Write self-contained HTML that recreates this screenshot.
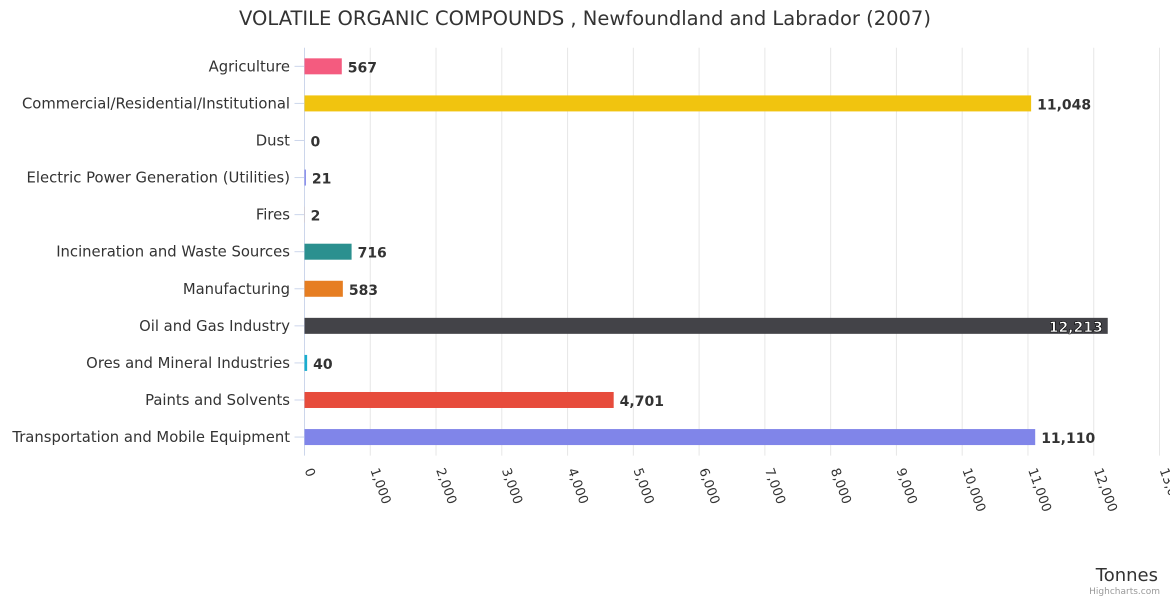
<!DOCTYPE html>
<html><head><meta charset="utf-8"><style>
body{margin:0;background:#fff;font-family:"Liberation Sans","DejaVu Sans",sans-serif}
svg text{font-family:"DejaVu Sans","Liberation Sans",sans-serif}
</style></head><body>
<svg id="c" width="1170" height="600">
<text x="585" y="25" text-anchor="middle" font-size="19.5" fill="#333">VOLATILE ORGANIC COMPOUNDS , Newfoundland and Labrador (2007)</text>
<g id="grid"></g><g id="bars"></g><g id="ylab"></g><g id="xlab"></g>
<text x="1158" y="581" text-anchor="end" font-size="18" fill="#333">Tonnes</text>
<text x="1160" y="594" text-anchor="end" font-size="9" fill="#999">Highcharts.com</text>
</svg>
<script>
const categories=["Agriculture","Commercial/Residential/Institutional","Dust","Electric Power Generation (Utilities)","Fires","Incineration and Waste Sources","Manufacturing","Oil and Gas Industry","Ores and Mineral Industries","Paints and Solvents","Transportation and Mobile Equipment"];
const values=[567,11048,0,21,2,716,583,12213,40,4701,11110];
const colors=["#f45b7f","#f1c40f","#2b908f","#8085e9","#f7a35c","#2b908f","#e67e22","#434348","#1aadce","#e74c3c","#8085e9"];
const ticks=[0,1000,2000,3000,4000,5000,6000,7000,8000,9000,10000,11000,12000,13000];
const NS="http://www.w3.org/2000/svg";
const x0=304.5,x1=1159.5,xmax=13000,yTop=47.8,yBot=455.6;
const xs=v=>x0+(x1-x0)*v/xmax;
const band=(yBot-yTop)/categories.length;
const yc=i=>yTop+band*(i+0.5);
function mk(t,a,p){const e=document.createElementNS(NS,t);for(const k in a)e.setAttribute(k,a[k]);p.appendChild(e);return e;}
const g=document.getElementById('grid'),b=document.getElementById('bars'),yl=document.getElementById('ylab'),xl=document.getElementById('xlab');
ticks.forEach(t=>{if(t>0){const l=mk('line',{x1:xs(t),x2:xs(t),y1:yTop,y2:yBot,stroke:'#e6e6e6'},g);

}
const x=xs(t),y=470;
const tx=mk('text',{x:x,y:y,'font-size':13,fill:'#333',transform:`rotate(70 ${x} ${y})`},xl);
tx.textContent=t.toLocaleString('en-US');

});
const ax=mk('line',{x1:x0,x2:x0,y1:yTop,y2:yBot,stroke:'#ccd6eb'},g);


categories.forEach((c,i)=>{const y=yc(i);
const tk=mk('line',{x1:x0-10,x2:x0,y1:y,y2:y,stroke:'#ccd6eb'},g);


const lt=mk('text',{x:290,y:y+5,'text-anchor':'end','font-size':14.8,fill:'#333'},yl);lt.textContent=c;


const w=xs(values[i])-x0;
const r=mk('rect',{x:x0,y:y-8,width:Math.max(w,0),height:16,fill:colors[i]},b);


const s=values[i].toLocaleString('en-US');
const inside=values[i]>12000;
const vt=mk('text',{x:inside?xs(values[i])-5:xs(values[i])+6,y:y+6,'text-anchor':inside?'end':'start','font-size':14,'font-weight':'bold',fill:inside?'#fff':'#333',stroke:inside?'#000':'none','stroke-width':inside?0.6:0},b);
vt.textContent=s;

});
</script>
</body></html>
